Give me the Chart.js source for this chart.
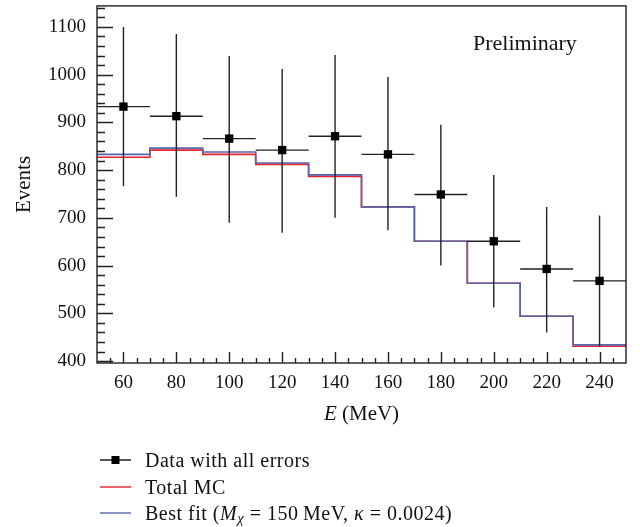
<!DOCTYPE html>
<html><head><meta charset="utf-8">
<script src="https://cdn.jsdelivr.net/npm/chart.js@4.4.1/dist/chart.umd.min.js"></script>
<style>
html,body{margin:0;padding:0;background:#fff;}
#wrap{position:relative;width:640px;height:527px;}
#c{position:absolute;left:0;top:0;}
.leg{position:absolute;left:100px;height:24px;line-height:24px;font-family:"Liberation Serif",serif;font-size:20px;letter-spacing:0.5px;color:#111;white-space:nowrap;}
.leg svg{position:absolute;left:0;top:0;}
.leg .t{position:absolute;left:45px;top:0;}
</style></head><body>
<div id="wrap"><canvas id="c" width="640" height="527"></canvas>
<div class="leg" style="top:448px"><svg width="34" height="24"><line x1="0" y1="12" x2="31" y2="12" stroke="#111" stroke-width="1.4"/><rect x="11.5" y="8" width="8" height="8" fill="#000"/></svg><span class="t">Data with all errors</span></div>
<div class="leg" style="top:474.5px"><svg width="34" height="24"><line x1="0" y1="12" x2="31" y2="12" stroke="#e8232b" stroke-width="1.4"/></svg><span class="t">Total MC</span></div>
<div class="leg" style="top:501px"><svg width="34" height="24"><line x1="0" y1="12" x2="31" y2="12" stroke="#5565aa" stroke-width="1.4"/></svg><span class="t">Best fit (<i>M</i><sub style="font-size:15px;position:relative;top:3px;vertical-align:baseline"><i>χ</i></sub> = 150&#8201;MeV, <i>κ</i> = 0.0024)</span></div>
</div>
<script>
// ---- data ----
const energies = [60, 80, 100, 120, 140, 160, 180, 200, 220, 240];
const binEdges = [50, 70, 90, 110, 130, 150, 170, 190, 210, 230, 250];
const dataCounts = [933, 913, 866, 842, 871, 833, 749, 651, 593, 568];
const dataErrHigh = [1100, 1085, 1039, 1012, 1041, 995, 895, 790, 723, 705];
const dataErrLow = [766, 744, 690, 669, 700, 674, 600, 512, 460, 430];
const totalMC = [827, 842, 833, 812, 787, 723, 651, 563, 494, 431];
const bestFit = [833, 846, 838, 815, 790, 723, 651, 563, 494, 434];
const xTickLabels = [60, 80, 100, 120, 140, 160, 180, 200, 220, 240];
const yTickLabels = [400, 500, 600, 700, 800, 900, 1000, 1100];

const FONT = '"Liberation Serif", serif';
const histPoints = vals => binEdges.map((e, i) => ({x: e, y: vals[Math.min(i, vals.length - 1)]}));

const errorBars = {
  id: 'errorBars',
  beforeDatasetDraw(chart, args) {
    if (args.index !== 0) return;
    const {ctx, scales: {x, y}} = chart;
    ctx.save();
    ctx.strokeStyle = '#222';
    ctx.lineWidth = 1.4;
    ctx.beginPath();
    energies.forEach((e, i) => {
      const px = x.getPixelForValue(e);
      const py = y.getPixelForValue(dataCounts[i]);
      ctx.moveTo(px, y.getPixelForValue(dataErrHigh[i]));
      ctx.lineTo(px, y.getPixelForValue(dataErrLow[i]));
      ctx.moveTo(x.getPixelForValue(binEdges[i]), py);
      ctx.lineTo(x.getPixelForValue(binEdges[i + 1]), py);
    });
    ctx.stroke();
    ctx.restore();
  }
};

const frame = {
  id: 'frame',
  afterDraw(chart) {
    const {ctx, chartArea: a, scales: {x, y}} = chart;
    ctx.save();
    ctx.strokeStyle = '#222';
    ctx.lineWidth = 1.4;
    ctx.strokeRect(a.left, a.top, a.right - a.left, a.bottom - a.top);
    ctx.beginPath();
    for (let v = 400; v <= 1140; v += 20) {
      const py = Math.round(y.getPixelForValue(v)) + 0.5;
      const len = v % 100 === 0 ? 16 : 8;
      ctx.moveTo(a.left, py); ctx.lineTo(a.left + len, py);
    }
    for (let v = 55; v <= 245; v += 5) {
      const px = Math.round(x.getPixelForValue(v)) + 0.5;
      const len = (v % 20 === 0) ? 11 : 5;
      ctx.moveTo(px, a.bottom); ctx.lineTo(px, a.bottom - len);
    }
    ctx.stroke();
    // "Preliminary"
    ctx.fillStyle = '#111';
    ctx.font = '22px ' + FONT;
    ctx.textBaseline = 'alphabetic';
    ctx.textAlign = 'left';
    ctx.fillText('Preliminary', a.right - 153, a.top + 44);
    // x-axis title: italic E + (MeV)
    const cx = (a.left + a.right) / 2;
    const ty = a.bottom + 57;
    ctx.font = 'italic 21px ' + FONT;
    const w1 = ctx.measureText('E').width;
    ctx.font = '21px ' + FONT;
    const w2 = ctx.measureText(' (MeV)').width;
    const sx = cx - (w1 + w2) / 2;
    ctx.font = 'italic 21px ' + FONT;
    ctx.fillText('E', sx, ty);
    ctx.font = '21px ' + FONT;
    ctx.fillText(' (MeV)', sx + w1, ty);
    ctx.restore();
  }
};

new Chart(document.getElementById('c'), {
  type: 'line',
  data: {
    datasets: [
      {label: 'Data with all errors', data: energies.map((e, i) => ({x: e, y: dataCounts[i]})),
       showLine: false, pointStyle: 'rect', pointRadius: 5.9, pointBackgroundColor: '#000',
       pointBorderColor: '#000', pointBorderWidth: 0},
      {label: 'Best fit', data: histPoints(bestFit), stepped: true, borderColor: '#5565aa',
       borderWidth: 1.6, pointRadius: 0, fill: false},
      {label: 'Total MC', data: histPoints(totalMC), stepped: true, borderColor: '#e8232b',
       borderWidth: 1.6, pointRadius: 0, fill: false}
    ]
  },
  options: {
    responsive: false,
    animation: false,
    layout: {padding: {top: 5, right: 14, bottom: 107, left: 0}},
    plugins: {legend: {display: false}, tooltip: {enabled: false}},
    scales: {
      x: {
        type: 'linear', min: 50, max: 250,
        grid: {display: false, drawTicks: false}, border: {display: false},
        ticks: {font: {family: FONT, size: 19}, color: '#111', padding: 9, maxRotation: 0,
                callback: v => String(v)},
        afterBuildTicks(s) { s.ticks = xTickLabels.map(v => ({value: v})); },
        afterFit(s) { s.height = 57; s.paddingLeft = 0; s.paddingRight = 0; }
      },
      y: {
        min: 396, max: 1144,
        grid: {display: false, drawTicks: false}, border: {display: false},
        ticks: {font: {family: FONT, size: 19}, color: '#111', padding: 11,
                callback: v => String(v)},
        afterBuildTicks(s) { s.ticks = yTickLabels.map(v => ({value: v})); },
        afterFit(s) { s.width = 97; s.paddingTop = 0; s.paddingBottom = 0; },
        title: {display: true, text: 'Events', font: {family: FONT, size: 21}, color: '#111',
                padding: {top: 12, bottom: 0}}
      }
    }
  },
  plugins: [errorBars, frame]
});
</script>
</body></html>
